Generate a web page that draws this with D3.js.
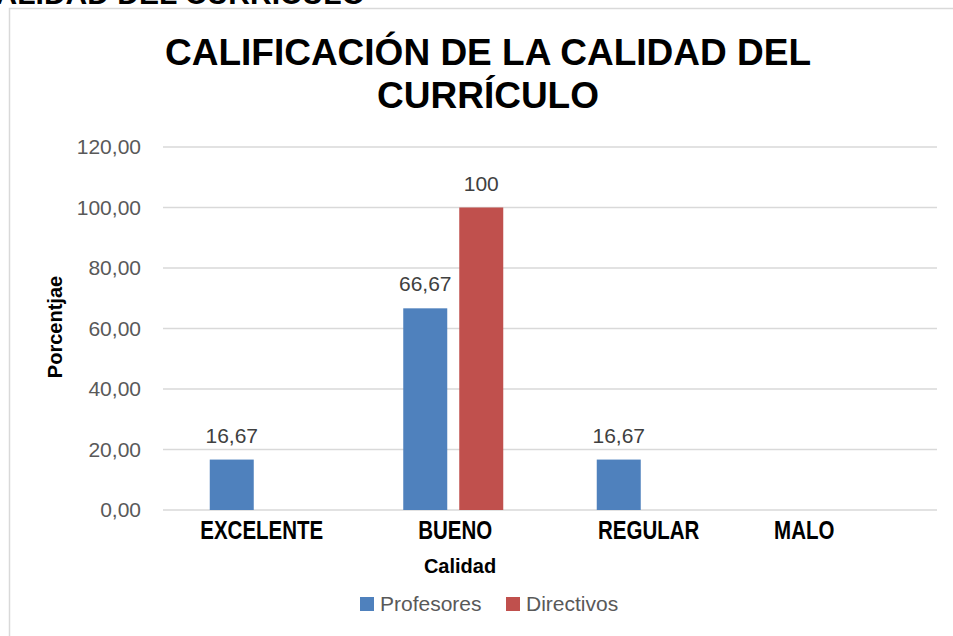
<!DOCTYPE html>
<html>
<head>
<meta charset="utf-8">
<script src="https://cdn.jsdelivr.net/npm/d3@7"></script>
<style>
  body { margin: 0; background: #fff; }
  svg { display: block; font-family: "Liberation Sans", Arial, sans-serif; }
</style>
</head>
<body>
<svg width="953" height="636"></svg>
<script>
(function(d3) {
    'use strict';

    const categories = ['EXCELENTE', 'BUENO', 'REGULAR', 'MALO'];
    const seriesNames = ['Profesores', 'Directivos'];
    const profesores = [16.67, 66.67, 16.67, null];
    const directivos = [null, 100, null, null];
    const labelText = {
        Profesores: ['16,67', '66,67', '16,67', null],
        Directivos: [null, '100', null, null]
    };
    const yTicks = [0, 20, 40, 60, 80, 100, 120];
    const colors = ['#4f81bd', '#c0504d'];

    const svg = d3.select('svg');

    // clipped heading from the page above
    svg.append('text')
        .attr('x', 365).attr('y', 4)
        .attr('text-anchor', 'end')
        .attr('font-weight', 'bold')
        .attr('font-size', 30)
        .attr('fill', '#000')
        .text('CALIDAD DEL CURRÍCULO');

    // chart frame
    svg.append('rect')
        .attr('x', 9.5).attr('y', 8.5)
        .attr('width', 960).attr('height', 660)
        .attr('fill', '#fff')
        .attr('stroke', '#d9d9d9')
        .attr('stroke-width', 1.5);

    const margin = { left: 163, right: 937, top: 147, bottom: 510 };

    const x = d3.scaleBand()
        .domain(categories)
        .range([margin.left, margin.right]);

    const y = d3.scaleLinear()
        .domain([0, 120])
        .range([margin.bottom, margin.top]);

    // gridlines
    svg.append('g')
        .selectAll('line')
        .data(yTicks)
        .enter().append('line')
        .attr('x1', margin.left).attr('x2', margin.right)
        .attr('y1', d => y(d)).attr('y2', d => y(d))
        .attr('stroke', '#d9d9d9')
        .attr('stroke-width', 1.3);

    // y tick labels
    svg.append('g')
        .selectAll('text')
        .data(yTicks)
        .enter().append('text')
        .attr('x', 141)
        .attr('y', d => y(d))
        .attr('dy', '0.35em')
        .attr('text-anchor', 'end')
        .attr('font-size', 21)
        .attr('fill', '#595959')
        .text(d => d3.format('.2f')(d).replace('.', ','));

    const barW = 44;
    const gap = 12;
    const groupW = barW * 2 + gap;
    const series = [profesores, directivos];
    const barX = (c, si) => x(c) + x.bandwidth() / 2 - groupW / 2 + si * (barW + gap);

    series.forEach((vals, si) => {
        const name = seriesNames[si];
        const data = categories.map((c, i) => ({ c, v: vals[i], label: labelText[name][i] }))
            .filter(d => d.v !== null);
        const g = svg.append('g');
        g.selectAll('rect')
            .data(data)
            .enter().append('rect')
            .attr('x', d => barX(d.c, si))
            .attr('y', d => y(d.v))
            .attr('width', barW)
            .attr('height', d => y(0) - y(d.v))
            .attr('fill', colors[si]);
        g.selectAll('text')
            .data(data)
            .enter().append('text')
            .attr('x', d => barX(d.c, si) + barW / 2)
            .attr('y', d => y(d.v) - 17)
            .attr('text-anchor', 'middle')
            .attr('font-size', 21)
            .attr('fill', '#404040')
            .text(d => d.label);
    });

    // category labels (condensed bold)
    svg.append('g')
        .selectAll('text')
        .data(categories)
        .enter().append('text')
        .attr('transform', d =>
            `translate(${x(d) + x.bandwidth() / 2 + (d === 'MALO' ? -36 : 2)},539) scale(0.82,1)`)
        .attr('text-anchor', 'middle')
        .attr('font-weight', 'bold')
        .attr('font-size', 25)
        .attr('fill', '#000')
        .text(d => d);

    // title
    svg.append('text')
        .attr('text-anchor', 'middle')
        .attr('font-weight', 'bold')
        .attr('font-size', 37)
        .attr('fill', '#000')
        .selectAll('tspan')
        .data(['CALIFICACIÓN DE LA CALIDAD DEL', 'CURRÍCULO'])
        .enter().append('tspan')
        .attr('x', 488)
        .attr('y', (d, i) => 65 + i * 43)
        .text(d => d);

    // axis titles
    svg.append('text')
        .attr('transform', 'translate(62,327) rotate(-90)')
        .attr('text-anchor', 'middle')
        .attr('font-weight', 'bold')
        .attr('font-size', 20)
        .text('Porcentjae');

    svg.append('text')
        .attr('x', 460).attr('y', 573)
        .attr('text-anchor', 'middle')
        .attr('font-weight', 'bold')
        .attr('font-size', 20)
        .text('Calidad');

    // legend
    const legend = svg.append('g')
        .selectAll('g')
        .data(seriesNames)
        .enter().append('g')
        .attr('transform', (d, i) => `translate(${360 + i * 146},597)`);
    legend.append('rect')
        .attr('width', 14).attr('height', 14)
        .attr('fill', (d, i) => colors[i]);
    legend.append('text')
        .attr('x', 20).attr('y', 7)
        .attr('dy', '0.35em')
        .attr('font-size', 21)
        .attr('fill', '#595959')
        .text(d => d);
}(d3));
</script>
</body>
</html>
